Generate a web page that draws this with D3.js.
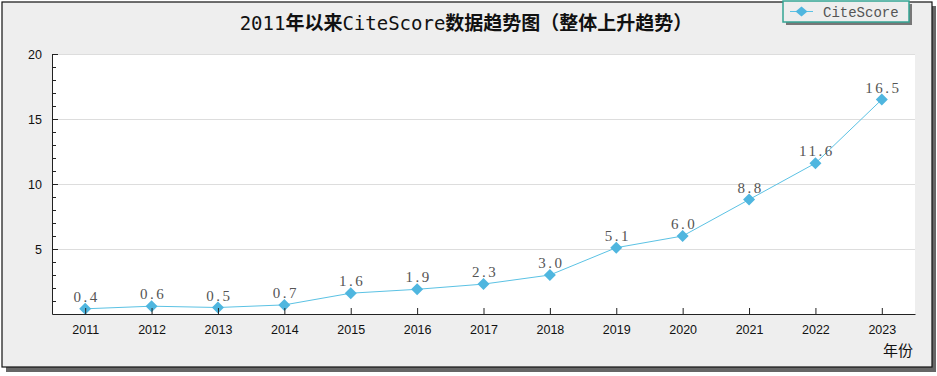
<!DOCTYPE html>
<html>
<head>
<meta charset="utf-8">
<script src="https://cdn.jsdelivr.net/npm/d3@7"></script>
<style>
  body { margin: 0; background: #fff; }
</style>
</head>
<body>
<div id="chart"></div>
<script>
// chart data
var years = ["2011", "2012", "2013", "2014", "2015", "2016", "2017", "2018", "2019", "2020", "2021", "2022", "2023"];
var citeScore = [0.4, 0.6, 0.5, 0.7, 1.6, 1.9, 2.3, 3.0, 5.1, 6.0, 8.8, 11.6, 16.5];
var yTicks = [5, 10, 15, 20];
var yMinorTicks = [1, 2, 3, 4, 6, 7, 8, 9, 11, 12, 13, 14, 16, 17, 18, 19];

var W = 937, H = 376;
var plot = { left: 52, right: 915, top: 54, bottom: 314 };

const svg = d3.select("#chart")
    .append("svg")
    .attr("width", W)
    .attr("height", H);

// frame + shadow
svg.append("rect")
    .attr("x", 6).attr("y", 6)
    .attr("width", 930).attr("height", 366)
    .attr("fill", "#666");
svg.append("rect")
    .attr("x", 2).attr("y", 2)
    .attr("width", 930).attr("height", 365)
    .attr("fill", "#eeeeee")
    .attr("stroke", "#111")
    .attr("stroke-width", 1.2);

// plot area
svg.append("rect")
    .attr("x", plot.left).attr("y", plot.top)
    .attr("width", plot.right - plot.left)
    .attr("height", plot.bottom - plot.top)
    .attr("fill", "#fff");

var x = d3.scalePoint()
    .domain(years)
    .range([plot.left, plot.right])
    .padding(0.5);

var y = d3.scaleLinear()
    .domain([0, 20])
    .range([plot.bottom, plot.top]);

// gridlines
svg.append("g")
    .selectAll("line")
    .data(yTicks)
    .enter()
    .append("line")
    .attr("x1", plot.left)
    .attr("x2", plot.right)
    .attr("y1", function(d) { return Math.round(y(d)) + 0.5; })
    .attr("y2", function(d) { return Math.round(y(d)) + 0.5; })
    .attr("stroke", "#dddddd");

// line
var line = d3.line()
    .x(function(d, i) { return x(years[i]); })
    .y(function(d) { return y(d); });

svg.append("path")
    .datum(citeScore)
    .attr("d", line)
    .attr("fill", "none")
    .attr("stroke", "#5bc2e4")
    .attr("stroke-width", 1);

// diamond markers
svg.selectAll("mymarker")
    .data(citeScore)
    .enter()
    .append("path")
    .attr("d", "M0,-6L6,0L0,6L-6,0Z")
    .attr("transform", function(d, i) { return "translate(" + x(years[i]) + "," + y(d) + ")"; })
    .attr("fill", "#4fb6df");

// value labels
svg.selectAll("mylabel")
    .data(citeScore)
    .enter()
    .append("text")
    .attr("x", function(d, i) { return x(years[i]) + 1.5; })
    .attr("y", function(d) { return y(d) - 7; })
    .attr("text-anchor", "middle")
    .style("font-family", "'Liberation Serif', serif")
    .style("font-size", "15px")
    .style("letter-spacing", "2.5px")
    .style("fill", "#555")
    .text(function(d) { return d.toFixed(1); });

// Y axis
svg.append("g")
    .attr("transform", "translate(" + plot.left + ",0)")
    .call(d3.axisLeft(y).tickValues(yTicks).tickSizeInner(-6).tickSizeOuter(0).tickPadding(10));
svg.append("g")
    .attr("transform", "translate(" + plot.left + ",0)")
    .call(d3.axisLeft(y).tickValues(yMinorTicks).tickSizeInner(-4).tickSizeOuter(0).tickFormat(""))
    .select(".domain").remove();

// X axis
svg.append("g")
    .attr("transform", "translate(0," + plot.bottom + ")")
    .call(d3.axisBottom(x).tickSizeInner(-6).tickSizeOuter(0).tickPadding(11));

svg.selectAll(".tick text")
    .style("font-family", "'Liberation Sans', sans-serif")
    .style("font-size", "12.5px")
    .style("fill", "#111");
svg.selectAll(".domain, .tick line")
    .attr("stroke", "#222");

// title
var title = svg.append("text")
    .attr("x", 466)
    .attr("y", 30)
    .attr("text-anchor", "middle")
    .style("font-size", "19px")
    .style("fill", "#111");
var titleParts = [
    ["2011", "'DejaVu Sans Mono'", "normal"],
    ["年以来", "'Noto Sans CJK SC'", "bold"],
    ["CiteScore", "'DejaVu Sans Mono'", "normal"],
    ["数据趋势图（整体上升趋势）", "'Noto Sans CJK SC'", "bold"]
];
titleParts.forEach(function(p) {
    title.append("tspan")
        .style("font-family", p[1])
        .style("font-weight", p[2])
        .text(p[0]);
});

// x axis name
svg.append("text")
    .attr("x", 913)
    .attr("y", 356)
    .attr("text-anchor", "end")
    .style("font-family", "'Noto Sans CJK SC'")
    .style("font-size", "15px")
    .style("fill", "#111")
    .text("年份");

// legend
svg.append("rect")
    .attr("x", 786).attr("y", 4)
    .attr("width", 126).attr("height", 21)
    .attr("fill", "#777");
svg.append("rect")
    .attr("x", 783).attr("y", 1)
    .attr("width", 126).attr("height", 21)
    .attr("fill", "#eeeeee")
    .attr("stroke", "#35a594")
    .attr("stroke-width", 1.5);
svg.append("line")
    .attr("x1", 790).attr("x2", 813)
    .attr("y1", 11.5).attr("y2", 11.5)
    .attr("stroke", "#5bc2e4");
svg.append("path")
    .attr("d", "M0,-5L6,0L0,5L-6,0Z")
    .attr("transform", "translate(801.5,11.5)")
    .attr("fill", "#4fb6df");
svg.append("text")
    .attr("x", 823)
    .attr("y", 16.5)
    .style("font-family", "'Liberation Mono', monospace")
    .style("font-size", "14px")
    .style("fill", "#555")
    .text("CiteScore");
</script>
</body>
</html>
